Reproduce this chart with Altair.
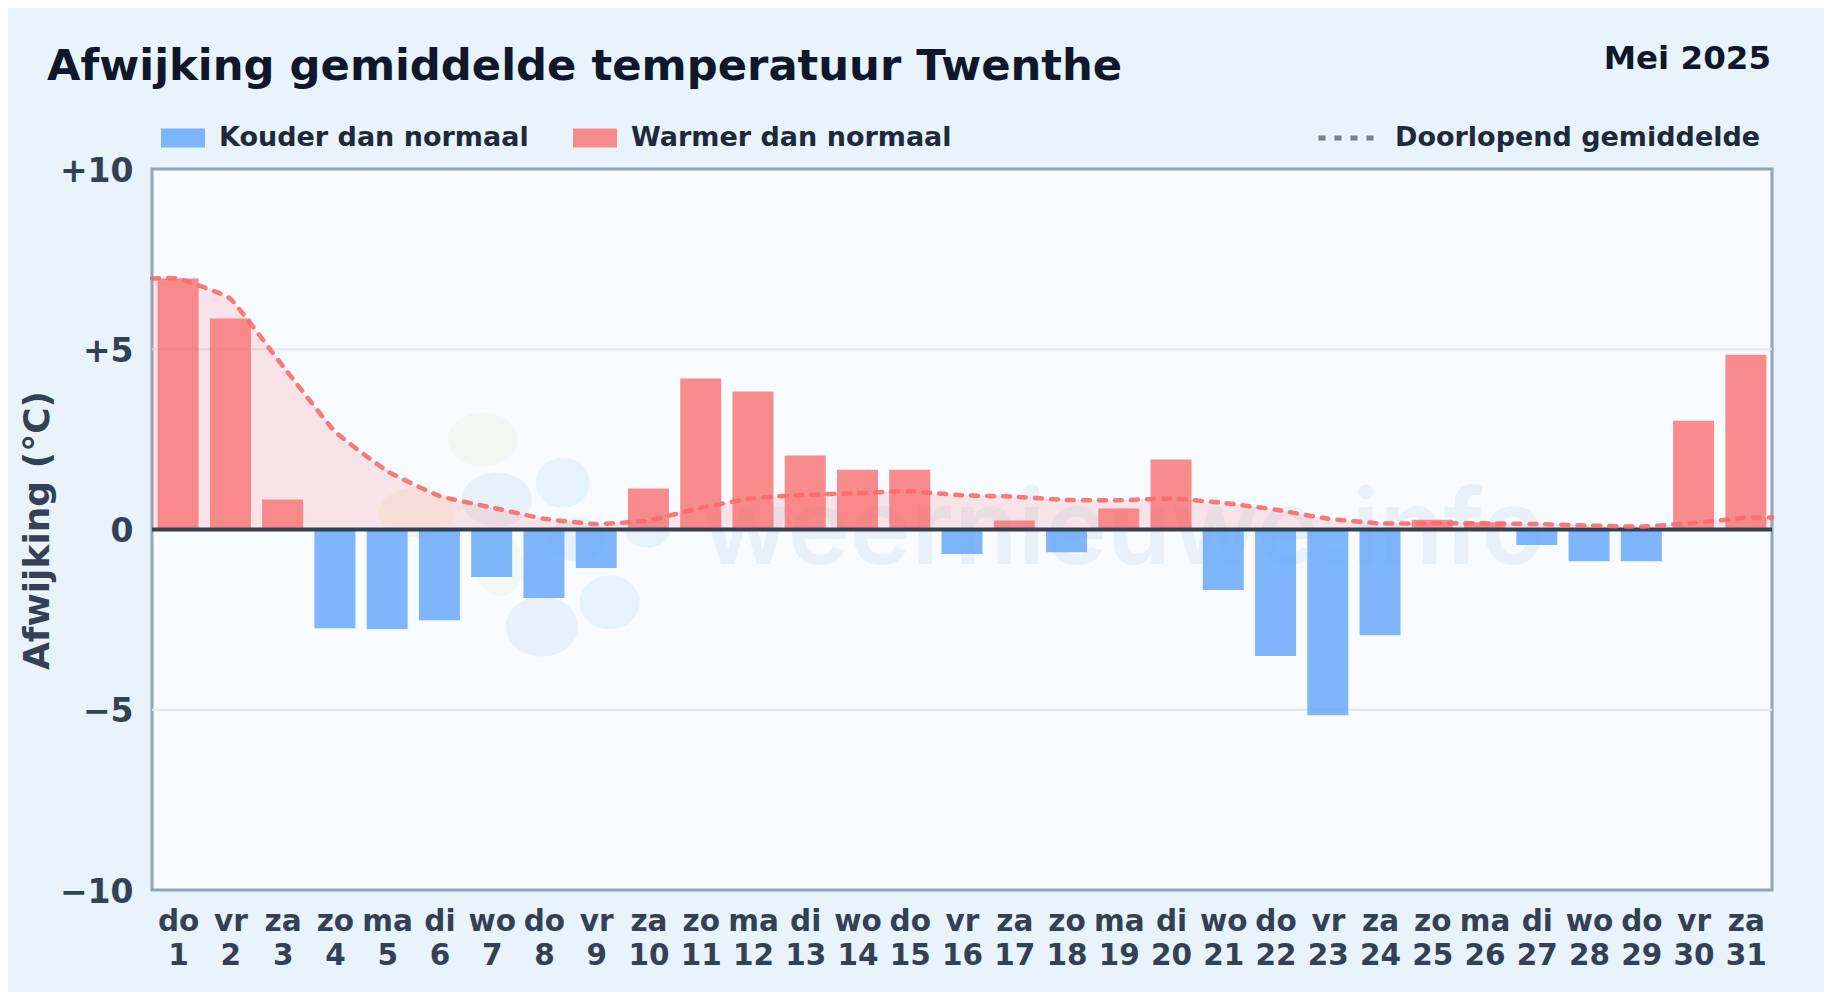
import altair as alt
import pandas as pd

TITLE = "Afwijking gemiddelde temperatuur Twenthe"
PERIOD = "Mei 2025"
WATERMARK = "weernieuwe.info"
COLD = "Kouder dan normaal"
WARM = "Warmer dan normaal"
AVG = "Doorlopend gemiddelde"

days = list(range(1, 32))
weekdays = ["do", "vr", "za", "zo", "ma", "di", "wo", "do", "vr", "za", "zo", "ma", "di", "wo", "do", "vr",
            "za", "zo", "ma", "di", "wo", "do", "vr", "za", "zo", "ma", "di", "wo", "do", "vr", "za"]
anomaly = [6.96, 5.85, 0.83, -2.74, -2.77, -2.52, -1.32, -1.90, -1.07, 1.14, 4.19, 3.83, 2.05, 1.66, 1.66, -0.68,
           0.25, -0.63, 0.58, 1.94, -1.68, -3.51, -5.15, -2.93, 0.27, 0.20, -0.43, -0.88, -0.88, 3.02, 4.85]
running_x = [0.5] + days + [31.5]
running = [6.96, 6.96, 6.40, 4.54, 2.72, 1.62, 0.93, 0.61, 0.30, 0.15, 0.25, 0.60, 0.87, 0.96, 1.01, 1.06, 0.95,
           0.91, 0.82, 0.81, 0.86, 0.74, 0.55, 0.30, 0.17, 0.17, 0.17, 0.15, 0.11, 0.08, 0.18, 0.33, 0.33]
y_ticks = [-10, -5, 0, 5, 10]
grid_values = [-5, 5]

bars = pd.DataFrame({"day": days, "value": anomaly})
bars["kind"] = [WARM if v >= 0 else COLD for v in anomaly]
avg = pd.DataFrame({"day": running_x, "value": running, "name": AVG})

FONT = "DejaVu Sans"
X = alt.Scale(domain=[0.5, 31.5], nice=False, zero=False, padding=0)
Y = alt.Scale(domain=[-10, 10], nice=False, padding=0)
names = "[" + ",".join("'%s'" % d for d in weekdays) + "]"

base_x = alt.X(
    "day:Q", scale=X, title=None,
    axis=alt.Axis(values=days, labelExpr=f"[{names}[datum.value-1], ''+datum.value]", labelFont=FONT,
                  labelFontSize=29.5, labelFontWeight="bold", labelColor="#334155", labelOverlap=False,
                  labelFlush=False, labelPadding=17, labelLineHeight=34, labelBaseline="top", labelBound=False,
                  grid=False, domain=False, ticks=False),
)
base_y = alt.Y(
    "value:Q", scale=Y, title="Afwijking (°C)", stack=None,
    axis=alt.Axis(values=y_ticks,
                  labelExpr="datum.value > 0 ? '+' + datum.value : datum.value < 0 ? '\u2212' + abs(datum.value) : '0'",
                  labelFont=FONT, labelFontSize=33, labelFontWeight="bold", labelColor="#334155", labelOffset=2,
                  labelPadding=19, labelBound=False, labelFlush=False, grid=False,
                  domain=False, ticks=False, titleFont=FONT, titleFontSize=36, titleFontWeight="bold",
                  titleColor="#334155", titleX=-96, titleY=361, titleAngle=270),
)


def blob(x, y, rx, ry, color, op=0.08):
    a = ry / rx
    path = f"M-1,0A1,{a:.3f},0,1,0,1,0A1,{a:.3f},0,1,0,-1,0Z"
    return alt.Chart(pd.DataFrame({"day": [x], "value": [y]})).mark_point(
        shape=path, filled=True, size=(2 * rx) ** 2, color=color, opacity=op, strokeWidth=0
    ).encode(x=base_x, y=base_y)


logo = [
    blob(6.83, 2.50, 35, 27, "#a3d977", 0.08), blob(7.16, -1.03, 23, 30, "#a3d977", 0.08),
    blob(5.57, 0.47, 38, 25, "#f5b041", 0.09),
    blob(7.10, 0.83, 35, 27, "#2f6fb5"), blob(7.96, -2.69, 36, 30, "#2f6fb5"), blob(8.63, -0.28, 28, 22, "#2f6fb5"),
    blob(8.36, 1.30, 27, 25, "#4db2f0", 0.1), blob(9.97, 0.0, 23, 18, "#4db2f0", 0.1),
    blob(9.26, -2.02, 30, 27, "#4db2f0", 0.1),
]

watermark = alt.Chart(pd.DataFrame({"day": [19.09], "value": [-0.97], "t": [WATERMARK]})).mark_text(
    font="Inter", fontSize=104.5, fontWeight=600, align="center", baseline="alphabetic", color="#3b82c4", opacity=0.08
).encode(x=base_x, y=base_y, text="t:N")

grid = alt.Chart(pd.DataFrame({"value": grid_values})).mark_rule(color="#e2e8f0", strokeWidth=2).encode(y=base_y)

area = alt.Chart(avg).mark_area(interpolate="cardinal", tension=0.65, color="#f87171", opacity=0.16).encode(
    x=base_x, y=base_y, y2=alt.datum(0)
)

bar = alt.Chart(bars).mark_bar(size=41, opacity=0.8).encode(
    x=base_x,
    y=base_y,
    color=alt.Color("kind:N", scale=alt.Scale(domain=[COLD, WARM], range=["#60a5fa", "#f87171"]),
                    legend=alt.Legend(orient="none", legendX=9, legendY=-53, direction="horizontal", columns=2,
                                      title=None, symbolType="M-1,-0.43H1V0.43H-1Z", symbolSize=1936,
                                      symbolStrokeWidth=0, symbolOpacity=0.8, labelFont=FONT, labelFontSize=27,
                                      labelFontWeight="bold", labelColor="#1e293b", labelOffset=14, labelLimit=600,
                                      columnPadding=44, padding=0)),
)

zero = alt.Chart(pd.DataFrame({"value": [0]})).mark_rule(color="#334155", strokeWidth=4).encode(y=base_y)

line = alt.Chart(avg).mark_line(interpolate="cardinal", tension=0.65, color="#f96a6a", strokeWidth=4.5, opacity=0.9,
                                strokeCap="round").encode(
    x=base_x,
    y=base_y,
    strokeDash=alt.StrokeDash("name:N", scale=alt.Scale(domain=[AVG], range=[[7, 9]]),
                              legend=alt.Legend(orient="none", legendX=1164, legendY=-61, title=None,
                                                symbolType="stroke", symbolSize=3025, symbolStrokeWidth=5,
                                                symbolStrokeColor="#64748b", symbolDash=[6, 10],
                                                labelFont=FONT, labelFontSize=27,
                                                labelFontWeight="bold", labelColor="#1e293b", labelOffset=19,
                                                labelLimit=600, padding=0)),
)

title = alt.Chart(pd.DataFrame({"t": [TITLE]})).mark_text(
    font=FONT, fontSize=43.3, fontWeight="bold", align="left", baseline="alphabetic", color="#0f172a"
).encode(x=alt.value(-105), y=alt.value(-89), text="t:N")

period = alt.Chart(pd.DataFrame({"t": [PERIOD]})).mark_text(
    font=FONT, fontSize=32.5, fontWeight="bold", align="right", baseline="alphabetic", color="#0f172a"
).encode(x=alt.value(1619), y=alt.value(-100), text="t:N")

chart = alt.layer(grid, *logo, watermark, area, bar, zero, line, title, period).resolve_scale(
    color="independent", strokeDash="independent"
).properties(
    width=1620, height=721, background="#e9f3fc",
    padding={"left": 144, "top": 161, "right": 52, "bottom": 102},
    autosize=alt.AutoSizeParams(type="none"),
).configure_view(fill="#f8fbff", stroke="#94a3b8", strokeWidth=3)

chart.save("out.html", embed_options={"renderer": "svg", "actions": False})
